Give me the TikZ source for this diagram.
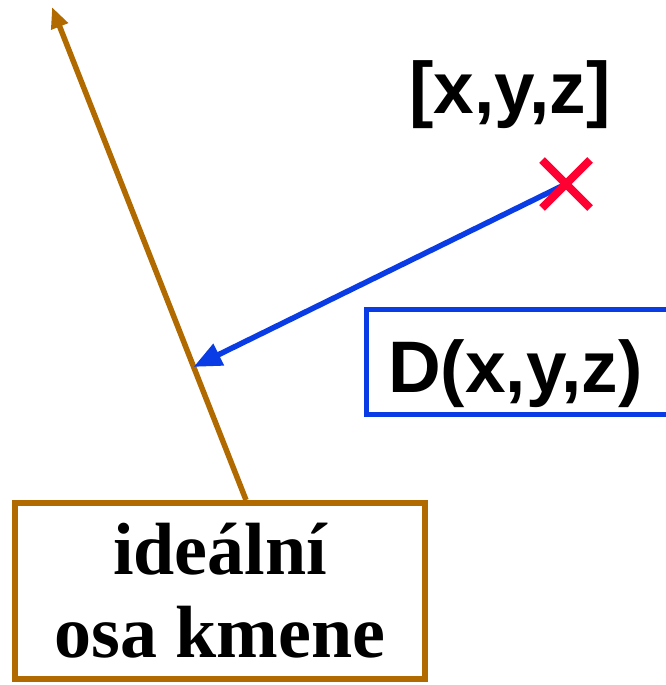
\documentclass[tikz,border=0pt]{standalone}
\usepackage{fontspec}
\setmainfont{Liberation Serif}
\setsansfont{Liberation Sans}
\usetikzlibrary{arrows.meta, shapes.misc, calc}
\definecolor{stem}{RGB}{176,106,0}
\definecolor{dist}{RGB}{10,60,230}
\definecolor{mark}{RGB}{255,0,51}

\begin{document}
\begin{tikzpicture}[x=1pt, y=-1pt,
  axisbox/.style={rectangle, draw=stem, line width=6pt, fill=white,
    minimum width=410pt, minimum height=176pt, align=center,
    font=\fontsize{74}{83}\selectfont\bfseries},
  distbox/.style={rectangle, inner ysep=0pt,
    inner xsep=21.5pt, text height=82.5pt, text depth=22.5pt,
    text width=300pt, align=left,
    font=\fontsize{73}{82}\selectfont\sffamily\bfseries},
  arrow/.style={line width=5.5pt}
]
\useasboundingbox (0,0) rectangle (666,685);

\node[axisbox] (osa) at (220,591) {ideální\\osa kmene};
\node[distbox, anchor=west] (dfun) at (366.5,362) {D(x,y,z)};
\node[anchor=base, font=\fontsize{73}{82}\selectfont\sffamily\bfseries] (xyz) at (510,113) {[x,y,z]};
\coordinate (top) at (52,7);
\coordinate (cross) at (566,184);
\coordinate (hit) at ($([xshift=26pt]osa.north)!0.27!(top)$);

% box of D runs off the right edge
\draw[dist, line width=5pt] (dfun.north east) -- (dfun.north west) -- (dfun.south west) -- (dfun.south east);
\draw[arrow, stem, -{Triangle[length=21pt, width=17pt]}] ([xshift=26pt]osa.north) -- (top);
\draw[arrow, dist, -{Triangle[length=28pt, width=23pt]}] (cross) -- (hit);
\node[cross out, draw=mark, line width=8pt, minimum size=40pt, inner sep=0pt] (pt) at (cross) {};
\end{tikzpicture}
\end{document}
